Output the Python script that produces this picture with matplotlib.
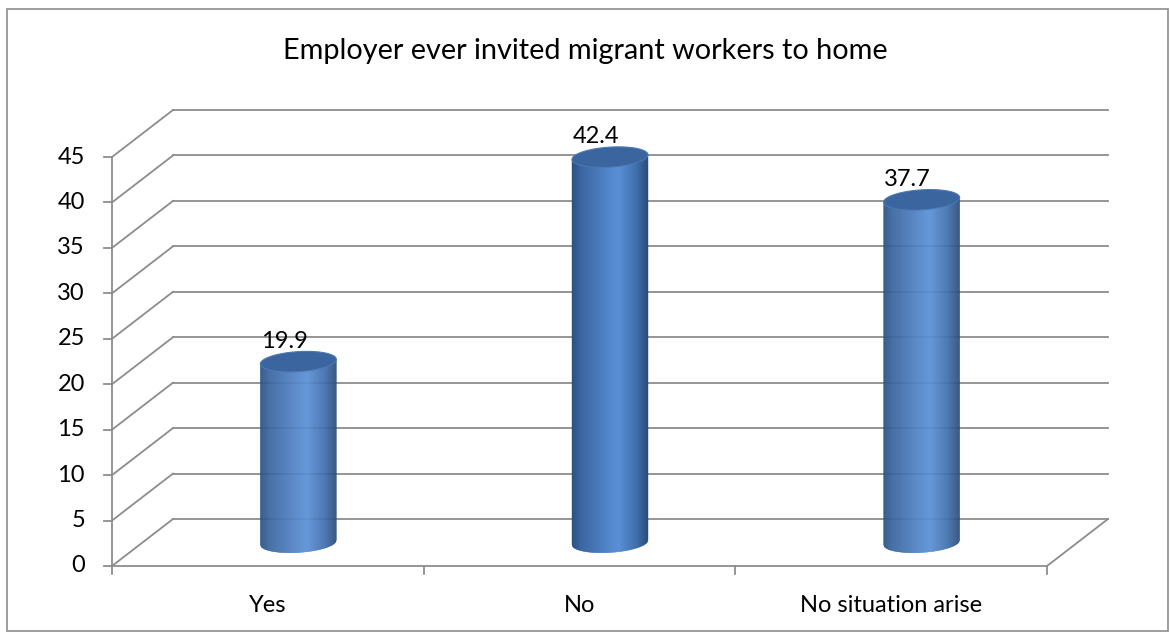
import matplotlib.pyplot as plt
import numpy as np
from matplotlib.collections import PolyCollection
from matplotlib.patches import Polygon, Rectangle
from matplotlib.transforms import Affine2D, IdentityTransform
from matplotlib.colors import LinearSegmentedColormap

categories = ["Yes", "No", "No situation arise"]
values = [19.9, 42.4, 37.7]
yticks = list(range(0, 50, 5))
title = "Employer ever invited migrant workers to home"

W, H = 1171, 632
DEPTH = (61, 47)          # back wall offset in pixels
GRID = "#8c8c8c"
FONT = ["Lato", "DejaVu Sans"]
LABEL_SIZE = 17

plt.rcParams["font.family"] = FONT

fig = plt.figure(figsize=(W / 100, H / 100), dpi=100)
fig.patches.append(Rectangle((7 / W, 1 / H), 1161 / W, 622 / H, transform=fig.transFigure,
                             fill=False, edgecolor="#8c8c8c", linewidth=1.2))

ax = fig.add_axes([112 / W, (H - 566) / H, 935 / W, 409 / H])
ax.set_xlim(-0.5, len(categories) - 0.5)
ax.set_ylim(0, 45)
ax.axis("off")

back = ax.transData + Affine2D().translate(*DEPTH)
mid = ax.transData + Affine2D().translate(DEPTH[0] / 2, DEPTH[1] / 2)
x0, x1 = ax.get_xlim()

# back wall gridlines and side wall diagonals
for v in yticks:
    ax.plot([x0, x1], [v, v], color=GRID, lw=1.3, transform=back, clip_on=False, zorder=1)
    p = ax.transData.transform((x0, v))
    ax.plot([p[0], p[0] + DEPTH[0]], [p[1], p[1] + DEPTH[1]], color=GRID, lw=1.3,
            transform=IdentityTransform(), clip_on=False, zorder=1)

# floor: front edge and right diagonal
ax.plot([x0, x1], [0, 0], color=GRID, lw=1.3, clip_on=False, zorder=1)
p = ax.transData.transform((x1, 0))
ax.plot([p[0], p[0] + DEPTH[0]], [p[1], p[1] + DEPTH[1]], color=GRID, lw=1.3,
        transform=IdentityTransform(), clip_on=False, zorder=1)

# front value axis with ticks
ax.plot([x0, x0], [0, 45], color=GRID, lw=1.3, clip_on=False, zorder=1)
for v in yticks:
    p = ax.transData.transform((x0, v))
    ax.plot([p[0] - 8, p[0]], [p[1], p[1]], color=GRID, lw=1.3,
            transform=IdentityTransform(), clip_on=False)
    ax.text(p[0] - 27, p[1], str(v), ha="right", va="center", fontsize=LABEL_SIZE,
            transform=IdentityTransform())

# category dividers and labels
for i in range(len(categories) + 1):
    p = ax.transData.transform((i - 0.5, 0))
    ax.plot([p[0], p[0]], [p[1], p[1] - 8], color=GRID, lw=1.3,
            transform=IdentityTransform(), clip_on=False)
for i, c in enumerate(categories):
    p = ax.transData.transform((i, 0))
    ax.text(p[0], p[1] - 40, c, ha="center", va="center", fontsize=LABEL_SIZE,
            transform=IdentityTransform())

ax.text(0.5, 1.0 - 51 / H, title, ha="center", va="center", fontsize=20.8,
        transform=fig.transFigure)

# cylinder shading, dark edges and a bright band right of centre
body_cmap = LinearSegmentedColormap.from_list("body", [
    (0.0, "#2c5183"), (0.12, "#3a66a0"), (0.5, "#5487cc"),
    (0.62, "#5a8fd6"), (0.85, "#4070ac"), (1.0, "#2c4d7b")])

RX, RY, TILT = 38.0, 10.0, 0.06


def ellipse_y(cx, cy, xs, sign):
    dx = xs - cx
    return cy + TILT * dx + sign * RY * np.sqrt(np.clip(1 - (dx / RX) ** 2, 0, None))


def cylinder(i, v):
    bx, by = mid.transform((i, 0))
    tx, ty = mid.transform((i, v))
    edges = np.linspace(bx - RX, bx + RX, 77)
    polys, cols = [], []
    for k in range(len(edges) - 1):
        xa, xb = edges[k], edges[k + 1]
        ya0, yb0 = ellipse_y(bx, by, np.array([xa, xb]), -1)
        ya1, yb1 = ty + TILT * (xa - tx), ty + TILT * (xb - tx)
        polys.append([(xa, ya0), (xb, yb0), (xb, yb1), (xa, ya1)])
        cols.append(body_cmap((k + 0.5) / (len(edges) - 1)))
    pc = PolyCollection(polys, facecolors=cols, edgecolors=cols, linewidths=0.3,
                        transform=IdentityTransform(), zorder=3, clip_on=False)
    ax.add_collection(pc)

    # top cap
    t = np.linspace(0, 2 * np.pi, 120)
    xs = tx + RX * np.cos(t)
    ys = ty + TILT * (xs - tx) + RY * np.sin(t)
    cap = Polygon(np.column_stack([xs, ys]), closed=True, facecolor="#3a659e",
                  edgecolor="#4a78b4", lw=0.8, transform=IdentityTransform(),
                  zorder=4, clip_on=False)
    ax.add_patch(cap)

    ax.text(tx - 14, ty + RY, f"{v}", ha="center", va="bottom", fontsize=LABEL_SIZE,
            transform=IdentityTransform(), zorder=5)


for i, v in enumerate(values):
    cylinder(i, v)

fig.savefig("out.png", dpi=100)
